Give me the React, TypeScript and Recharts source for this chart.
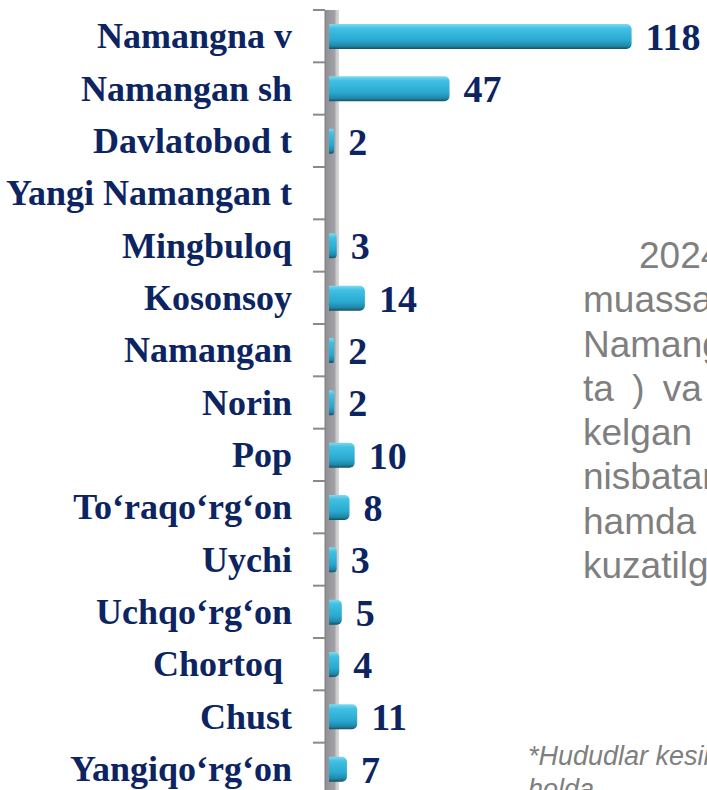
import React from 'react';
import { BarChart, Bar, XAxis, YAxis, ReferenceArea, LabelList } from 'recharts';

// districts, top to bottom
const districts = [
  'Namangna v',
  'Namangan sh',
  'Davlatobod t',
  'Yangi Namangan t',
  'Mingbuloq',
  'Kosonsoy',
  'Namangan',
  'Norin',
  'Pop',
  'To‘raqo‘rg‘on',
  'Uychi',
  'Uchqo‘rg‘on',
  'Chortoq\u00a0',
  'Chust',
  'Yangiqo‘rg‘on',
];

const counts: (number | null)[] = [118, 47, 2, null, 3, 14, 2, 2, 10, 8, 3, 5, 4, 11, 7];

const sideText = ['2024-yil', 'muassasalari', 'Namangan', 'ta ) va', 'kelgan', 'nisbatan', 'hamda', 'kuzatilgan'];
const footnote = ['*Hududlar kesimida', 'holda'];

const data = districts.map((name, i) => ({ name, value: counts[i] }));

const NAVY = '#0c2461';
const SERIF = '"Liberation Serif", "Times New Roman", serif';

const CategoryTick = (props: any) => {
  const { y, payload } = props;
  return (
    <text x={292} y={y} dy={12} textAnchor="end" fontFamily={SERIF} fontWeight={700} fontSize={36} fill={NAVY}>
      {payload.value}
    </text>
  );
};

// grey "wall" behind the bars, with little ticks at the category borders
const Wall = (props: any) => {
  const { y, height } = props;
  const left = 325;
  const w = 14;
  const step = height / districts.length;
  const ticks = [];
  for (let k = 0; k <= districts.length; k++) {
    ticks.push(<line key={k} x1={313} x2={left} y1={y + k * step} y2={y + k * step} stroke="#8a8a8a" strokeWidth={2} />);
  }
  return (
    <g>
      <rect x={left} y={y} width={w} height={height + 20} fill="url(#wallGrad)" />
      <line x1={left} x2={left} y1={y} y2={y + height + 20} stroke="#7d7d80" strokeWidth={1} />
      {ticks}
    </g>
  );
};

const App: React.FC = () => {
  return (
    <div style={{ position: 'fixed', left: 0, top: 0, width: 707, height: 790, overflow: 'hidden', background: '#fff' }}>
      <BarChart
        layout="vertical"
        width={707}
        height={795}
        data={data}
        margin={{ top: 10, right: 19, bottom: 0, left: 0 }}
      >
        <defs>
          <linearGradient id="barGrad" x1="0" y1="0" x2="0" y2="1">
            <stop offset="0%" stopColor="#7fd9f0" />
            <stop offset="18%" stopColor="#40c0e2" />
            <stop offset="65%" stopColor="#2aa9d0" />
            <stop offset="88%" stopColor="#1f87a8" />
            <stop offset="100%" stopColor="#174f63" />
          </linearGradient>
          <linearGradient id="wallGrad" x1="0" y1="0" x2="1" y2="0">
            <stop offset="0%" stopColor="#8f8f93" />
            <stop offset="70%" stopColor="#a3a3a7" />
            <stop offset="80%" stopColor="#c9c9cb" />
            <stop offset="100%" stopColor="#d8d8d8" />
          </linearGradient>
        </defs>
        <XAxis type="number" hide domain={[0, 140]} />
        <YAxis
          type="category"
          dataKey="name"
          width={329}
          axisLine={false}
          tickLine={false}
          interval={0}
          tick={<CategoryTick />}
        />
        <ReferenceArea x1={-1.6} x2={3.9} ifOverflow="visible" shape={<Wall />} />
        <Bar dataKey="value" fill="url(#barGrad)" barSize={25} radius={[0, 5, 5, 0]} isAnimationActive={false}>
          <LabelList
            dataKey="value"
            position="right"
            offset={14}
            style={{ fontFamily: SERIF, fontWeight: 700, fontSize: 38, fill: NAVY }}
          />
        </Bar>
      </BarChart>

      <div
        style={{
          position: 'absolute',
          left: 583,
          top: 234,
          fontFamily: '"Liberation Sans", Arial, sans-serif',
          fontSize: 37,
          lineHeight: '44.3px',
          color: '#7f7f7f',
          whiteSpace: 'pre',
        }}
      >
        {sideText.map((t, i) => (
          <div key={i} style={{ paddingLeft: i === 0 ? 56 : 0, wordSpacing: i === 3 ? 8 : 0 }}>{t}</div>
        ))}
      </div>

      <div
        style={{
          position: 'absolute',
          left: 528,
          top: 740,
          fontFamily: '"Liberation Sans", Arial, sans-serif',
          fontStyle: 'italic',
          fontSize: 27,
          lineHeight: '33px',
          color: '#7f7f7f',
          whiteSpace: 'pre',
        }}
      >
        {footnote.map((t, i) => (
          <div key={i}>{t}</div>
        ))}
      </div>
    </div>
  );
};

export default App;
